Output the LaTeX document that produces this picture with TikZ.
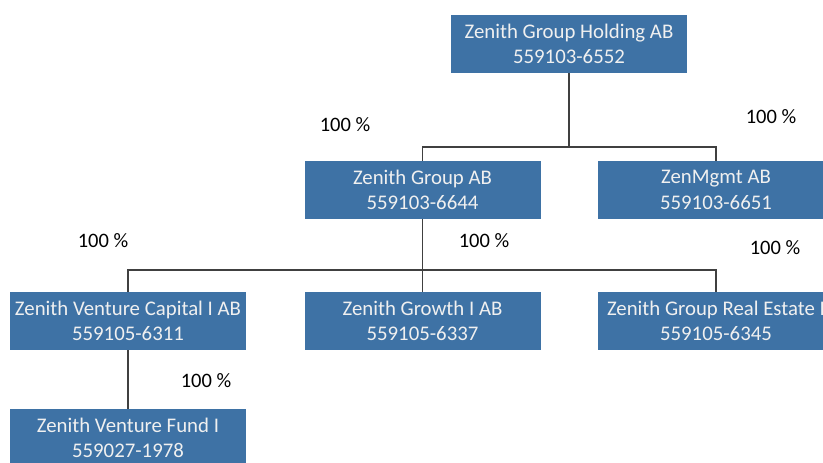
\documentclass[tikz,border=0pt]{standalone}
\usepackage{fontspec}
\setmainfont{Carlito}
\definecolor{boxblue}{HTML}{3E72A5}
\definecolor{linegray}{HTML}{404040}
\begin{document}
\begin{tikzpicture}[x=1pt,y=-1pt,
  firm/.style = {shape=rectangle, fill=boxblue, text=white!94!black,
    align=center, minimum width=236pt, minimum height=58pt, inner sep=0pt,
    font=\fontsize{20.8}{25.5}\selectfont},
  pct/.style  = {font=\fontsize{20.5}{24}\selectfont, inner sep=0pt},
  link/.style = {draw=linegray, line width=1.2pt}]
\clip (0,0) rectangle (823,463);
\useasboundingbox (0,0) rectangle (823,463);
% companies
\node[firm] (hold)   at (569,44)    {Zenith Group Holding AB\\559103-6552};
\node[firm] (grp)    at (422.5,190) {Zenith Group AB\\559103-6644};
\node[firm] (mgmt)   at (716,190)   {ZenMgmt AB\\559103-6651};
\node[firm] (vc)     at (128,321)   {Zenith Venture Capital I AB\\559105-6311};
\node[firm] (growth) at (422.5,321) {Zenith Growth I AB\\559105-6337};
\node[firm] (estate) at (716,321)
  {\makebox[218pt][l]{Zenith Group Real Estate I AB}\\559105-6345};
\node[firm] (fund)   at (128,438)   {Zenith Venture Fund I\\559027-1978};
% ownership
\node[pct] (p1) at (345,125) {100 \%};
\node[pct] (p2) at (771,117) {100 \%};
\node[pct] (p3) at (103,241) {100 \%};
\node[pct] (p4) at (484,241) {100 \%};
\node[pct] (p5) at (775,248) {100 \%};
\node[pct] (p6) at (206,381) {100 \%};
% lines
\coordinate (bar1) at (569,147);
\coordinate (bar2) at (422.5,270);
\draw[link] (hold.south) -- (bar1);
\draw[link] (grp.north) |- (bar1) -| (mgmt.north);
\draw[link] (grp.south) -- (growth.north);
\draw[link] (vc.north) |- (bar2) -| (estate.north);
\draw[link] (vc.south) -- (fund.north);
\end{tikzpicture}
\end{document}
